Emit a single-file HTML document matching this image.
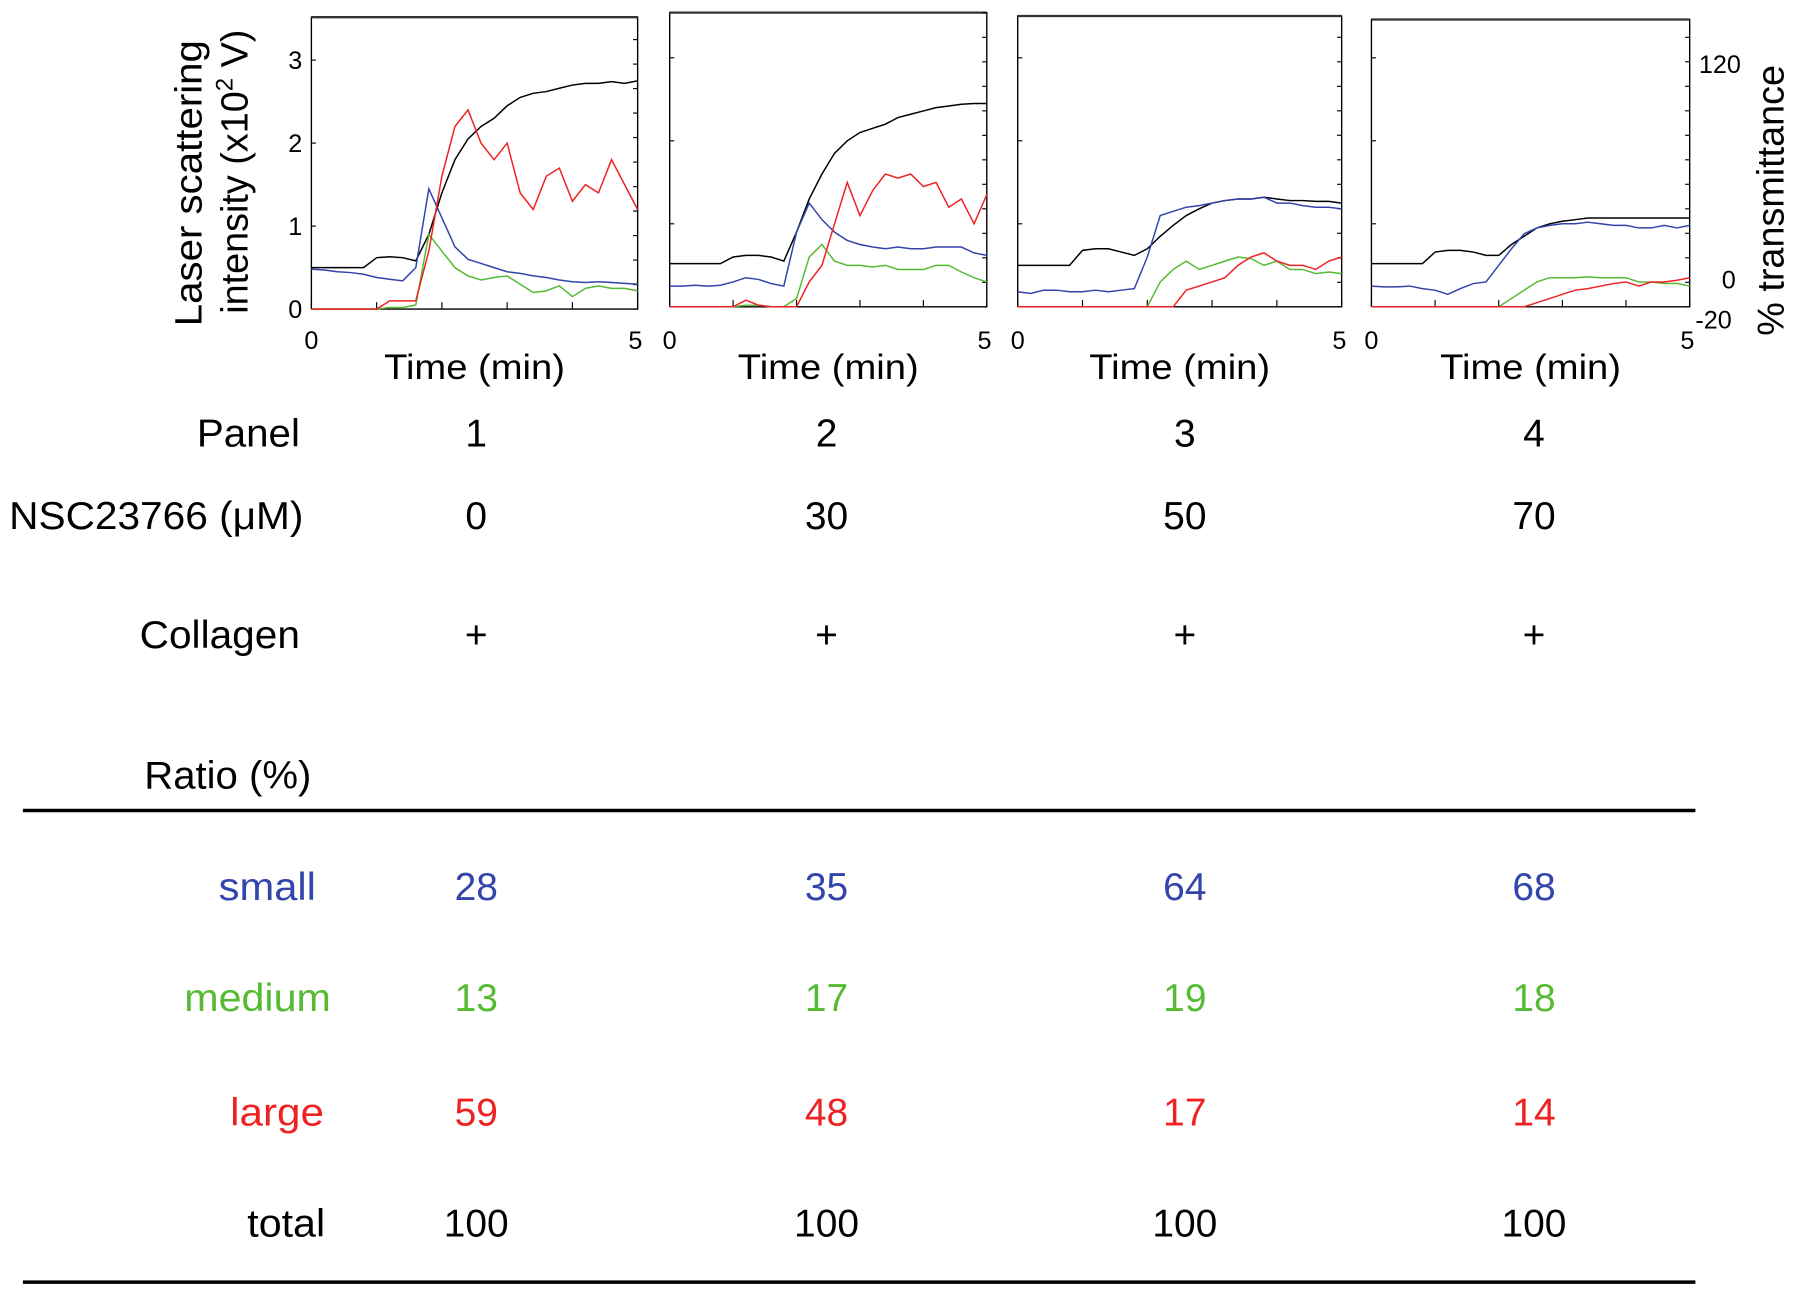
<!DOCTYPE html>
<html><head><meta charset="utf-8"><style>
html,body{margin:0;padding:0;background:#fff;}
svg{display:block;}
text{font-family:"Liberation Sans",sans-serif;}
</style></head><body>
<svg id="fig" width="1795" height="1297" viewBox="0 0 1568 1133" preserveAspectRatio="none" xmlns="http://www.w3.org/2000/svg">
<g id="charts"></g>
<text transform="translate(176,160) rotate(-90)" text-anchor="middle" font-size="33" textLength="250" lengthAdjust="spacingAndGlyphs">Laser scattering</text>
<text transform="translate(216,150) rotate(-90)" text-anchor="middle" font-size="33">intensity (x10<tspan font-size="21" dy="-13">2</tspan><tspan dy="13"> V)</tspan></text>
<text transform="translate(1558,175) rotate(-90)" text-anchor="middle" font-size="33">% transmittance</text>
<g font-size="22" text-anchor="start">
<text x="1484" y="64">120</text><text x="1504" y="252">0</text><text x="1481" y="287">-20</text>
</g>
<g id="table" font-size="34"></g>
</svg>
<script>
const times=[0,0.2,0.4,0.6,0.8,1,1.2,1.4,1.6,1.8,2,2.2,2.4,2.6,2.8,3,3.2,3.4,3.6,3.8,4,4.2,4.4,4.6,4.8,5];
const black1=[0.5,0.5,0.5,0.5,0.5,0.62,0.63,0.62,0.58,0.9,1.4,1.8,2.05,2.2,2.3,2.45,2.55,2.6,2.62,2.66,2.7,2.72,2.72,2.74,2.72,2.75];
const blue1=[0.48,0.47,0.45,0.44,0.42,0.38,0.36,0.34,0.5,1.45,1.1,0.75,0.6,0.55,0.5,0.45,0.43,0.4,0.38,0.35,0.33,0.32,0.33,0.32,0.31,0.3];
const green1=[0,0,0,0,0,0,0.02,0.02,0.05,0.9,0.7,0.5,0.4,0.35,0.38,0.4,0.3,0.2,0.22,0.28,0.15,0.25,0.28,0.25,0.25,0.22];
const red1=[0,0,0,0,0,0,0.1,0.1,0.1,0.7,1.6,2.2,2.4,2.0,1.8,2.0,1.4,1.2,1.6,1.7,1.3,1.5,1.4,1.8,1.5,1.2];
const black2=[0.52,0.52,0.52,0.52,0.52,0.6,0.62,0.62,0.6,0.55,0.9,1.3,1.6,1.85,2.0,2.1,2.15,2.2,2.28,2.32,2.36,2.4,2.42,2.44,2.45,2.45];
const blue2=[0.25,0.25,0.26,0.25,0.26,0.3,0.35,0.33,0.28,0.25,0.9,1.25,1.05,0.9,0.8,0.75,0.72,0.7,0.72,0.7,0.7,0.72,0.72,0.72,0.65,0.62];
const green2=[0,0,0,0,0,0,0.02,0.02,0,0,0.1,0.6,0.75,0.55,0.5,0.5,0.48,0.5,0.45,0.45,0.45,0.5,0.5,0.42,0.35,0.3];
const red2=[0,0,0,0,0,0,0.08,0.02,0,0,0,0.3,0.5,1.0,1.5,1.1,1.4,1.6,1.55,1.6,1.45,1.5,1.2,1.3,1.0,1.35];
const black3=[0.5,0.5,0.5,0.5,0.5,0.68,0.7,0.7,0.66,0.62,0.7,0.85,0.98,1.1,1.18,1.25,1.28,1.3,1.3,1.32,1.3,1.28,1.28,1.27,1.27,1.25];
const blue3=[0.18,0.16,0.2,0.2,0.18,0.18,0.2,0.18,0.2,0.22,0.6,1.1,1.15,1.2,1.22,1.25,1.28,1.3,1.3,1.32,1.25,1.25,1.22,1.2,1.2,1.18];
const green3=[0,0,0,0,0,0,0,0,0,0,0,0.3,0.45,0.55,0.45,0.5,0.55,0.6,0.58,0.5,0.55,0.45,0.45,0.4,0.42,0.4];
const red3=[0,0,0,0,0,0,0,0,0,0,0,0,0,0.2,0.25,0.3,0.35,0.5,0.6,0.65,0.55,0.5,0.5,0.45,0.55,0.6];
const black4=[0.52,0.52,0.52,0.52,0.52,0.66,0.68,0.68,0.66,0.62,0.62,0.75,0.85,0.95,1.0,1.03,1.05,1.07,1.07,1.07,1.07,1.07,1.07,1.07,1.07,1.07];
const blue4=[0.25,0.24,0.24,0.25,0.22,0.2,0.15,0.22,0.28,0.3,0.5,0.7,0.88,0.95,0.98,1.0,1.0,1.02,1.0,0.98,0.98,0.95,0.95,0.98,0.95,0.98];
const green4=[0,0,0,0,0,0,0,0,0,0,0,0.1,0.2,0.3,0.35,0.35,0.35,0.36,0.35,0.35,0.35,0.3,0.3,0.28,0.28,0.25];
const red4=[0,0,0,0,0,0,0,0,0,0,0,0,0,0.05,0.1,0.15,0.2,0.22,0.25,0.28,0.3,0.25,0.3,0.3,0.32,0.35];
const panelLabels=["1","2","3","4"];
const drugConc=["0","30","50","70"];
const collagen=["+","+","+","+"];
const small=["28","35","64","68"];
const medium=["13","17","19","18"];
const large=["59","48","17","14"];
const total=["100","100","100","100"];
const leftTicks=[0,1,2,3];

const NS="http://www.w3.org/2000/svg";
const charts=document.getElementById('charts');
function mk(tag,attrs,parent){const e=document.createElementNS(NS,tag);for(const k in attrs)e.setAttribute(k,attrs[k]);parent.appendChild(e);return e;}
const panels=[
 {x0:272,x1:557,top:15,bot:270,series:[black1,blue1,green1,red1]},
 {x0:585,x1:862,top:11,bot:268,series:[black2,blue2,green2,red2]},
 {x0:889,x1:1172,top:14,bot:268,series:[black3,blue3,green3,red3]},
 {x0:1198,x1:1476,top:17,bot:268,series:[black4,blue4,green4,red4]}];
const colors=["#000000","#3344aa","#55bb33","#ee2222"];
const names=["black-trace","small-aggregates-line","medium-aggregates-line","large-aggregates-line"];
panels.forEach((p,i)=>{
 const g=mk('g',{},charts);
 
 
 const sx=t=>p.x0+(p.x1-p.x0)*t/5;
 const sy=v=>p.bot-v*72.5;
 const frame=mk('path',{d:`M${p.x0},${p.bot}V${p.top}H${p.x1}V${p.bot}H${p.x0}`,fill:'none',stroke:'#000','stroke-width':1.2},g);
 
 
 mk('line',{x1:p.x0,y1:p.top,x2:p.x1,y2:p.top,stroke:'#333','stroke-width':2},g);
 for(let k=0;k<=5;k++){mk('line',{x1:sx(k),y1:p.bot,x2:sx(k),y2:p.bot-6,stroke:'#000'},g);}
 for(let y=p.bot;y>p.top;y-=21.4){mk('line',{x1:p.x1,y1:y,x2:p.x1-4,y2:y,stroke:'#000'},g);}
 leftTicks.forEach(v=>{mk('line',{x1:p.x0,y1:sy(v),x2:p.x0+4,y2:sy(v),stroke:'#000'},g);});
 if(i===0){leftTicks.forEach(v=>{const t=mk('text',{x:p.x0-8,y:sy(v)+8,'text-anchor':'end','font-size':22},g);t.textContent=v;
   
   });}
 const t0=mk('text',{x:p.x0,y:305,'text-anchor':'middle','font-size':22},g);t0.textContent='0';
 
 
 const t5=mk('text',{x:p.x1-2,y:305,'text-anchor':'middle','font-size':22},g);t5.textContent='5';
 
 
 const xt=mk('text',{x:(p.x0+p.x1)/2,y:331,'text-anchor':'middle','font-size':31,textLength:158,lengthAdjust:'spacingAndGlyphs'},g);xt.textContent='Time (min)';
 
 
 p.series.forEach((s,j)=>{
  const d=s.map((v,k)=>(k?'L':'M')+sx(times[k]).toFixed(1)+','+sy(v).toFixed(1)).join('');
  const pl=mk('path',{d:d,fill:'none',stroke:colors[j],'stroke-width':1.3},g);
  
  
 });
});
const tb=document.getElementById('table');
const colX=[416,722,1035,1340];
function row(label,lx,y,vals,color,lw,name){
 const l=mk('text',{x:lx,y:y,'text-anchor':'end',fill:color,textLength:lw,lengthAdjust:'spacingAndGlyphs'},tb);l.textContent=label;
 
 
 if(vals)vals.forEach((v,k)=>{const t=mk('text',{x:colX[k],y:y,'text-anchor':'middle',fill:color},tb);t.textContent=v;
  
  });
}
row('Panel',262,390,panelLabels,'#000',90,'panel-row');
row('NSC23766 (μM)',265,462,drugConc,'#000',257,'nsc23766-row');
row('Collagen',262,566,collagen,'#000',140,'collagen-row');
row('Ratio (%)',272,689,null,'#000',146,'ratio-header');
row('small',276,786,small,'#3344aa',85,'small-row');
row('medium',289,883,medium,'#55bb33',128,'medium-row');
row('large',283,983,large,'#ee2222',82,'large-row');
row('total',284,1080,total,'#000',68,'total-row');
const r1=mk('line',{x1:20,y1:708,x2:1481,y2:708,stroke:'#000','stroke-width':3},tb);


const r2=mk('line',{x1:20,y1:1120,x2:1481,y2:1120,stroke:'#000','stroke-width':3},tb);


</script>
</body></html>
